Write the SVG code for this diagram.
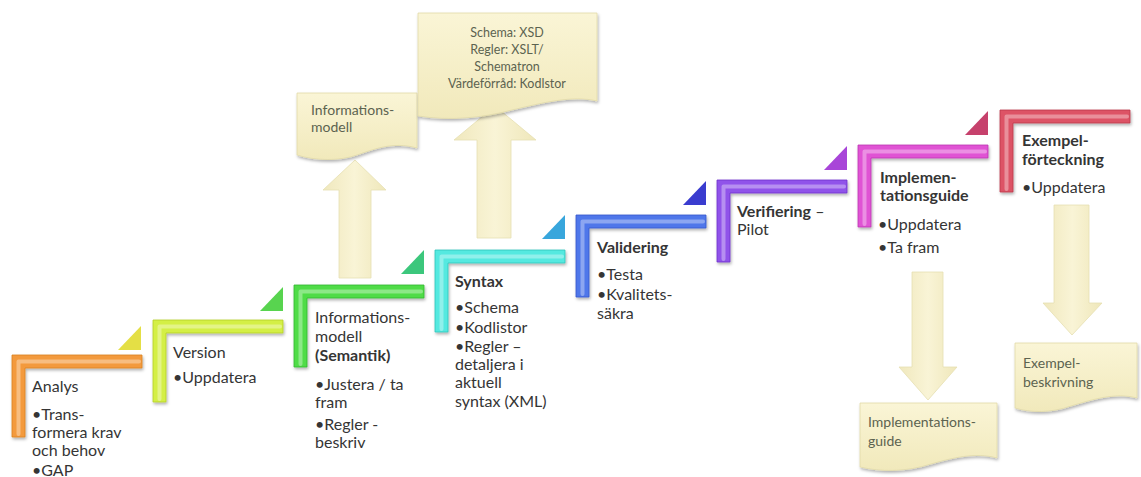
<svg xmlns="http://www.w3.org/2000/svg" width="1141" height="477" viewBox="0 0 1141 477">
<style>
.t{font-family:Lato,"Liberation Sans",sans-serif;font-size:16px;fill:#353535}
.b{font-weight:bold}
.d{font-family:Lato,"Liberation Sans",sans-serif;font-size:14px;fill:#5c6350}
.ds{font-size:12.5px}
.doc{fill:url(#cream);stroke:#e2daa8;stroke-width:0.8;filter:url(#sh)}
.arr{fill:url(#creamH);stroke:#e6dfb2;stroke-width:0.8}
.hl{fill:none;stroke:#fff;stroke-opacity:0.35;stroke-width:4;stroke-linecap:round;stroke-linejoin:round}
.edge{stroke-width:0.8}
</style>
<defs>
<filter id="sh" x="-20%" y="-20%" width="140%" height="150%">
<feDropShadow dx="1" dy="2" stdDeviation="1.6" flood-color="#000" flood-opacity="0.3"/>
</filter>
<linearGradient id="cream" x1="0" y1="0" x2="0" y2="1">
<stop offset="0" stop-color="#faf5d6"/><stop offset="1" stop-color="#f1e9bb"/>
</linearGradient>
<linearGradient id="creamH" x1="0" y1="0" x2="1" y2="0">
<stop offset="0" stop-color="#f0e8bd"/><stop offset="0.5" stop-color="#f9f4d6"/><stop offset="1" stop-color="#efe7ba"/>
</linearGradient>
<path id="L" d="M0,0 H130 V13 H13 V82 H0 Z"/>
<path id="Lh" d="M6.5,79 V6.5 H127"/>
<path id="tri" d="M0,24 H23 V0 Z"/>
</defs>

<g id="connectors">
<path class="arr" d="M339,278 V190 H323 L355,160 L386,190 H371 V278 Z"/>
<path class="arr" d="M477,238 V140 H454 L495,106 L536,140 H511 V238 Z"/>
<path class="arr" d="M912,272 V367 H899 L928,400 L957,367 H943 V272 Z"/>
<path class="arr" d="M1054,205 V303 H1043 L1072,335 L1102,303 H1089 V205 Z"/>
</g>

<g id="doc-informationsmodell">
<path class="doc" d="M297,93 H417 V148 C392,141 372,150 357,155 C340,161 316,161 297,155 Z"/>
<text class="d" x="311" y="115">Informations-</text>
<text class="d" x="311" y="132">modell</text>
</g>

<g id="doc-schema">
<path class="doc" d="M418,13 H597 V101 C572,95 542,103 512,110 C482,118 450,121 418,116 Z"/>
<text class="d ds" text-anchor="middle" x="507" y="37">Schema: XSD</text>
<text class="d ds" text-anchor="middle" x="507" y="54">Regler: XSLT/</text>
<text class="d ds" text-anchor="middle" x="507" y="71">Schematron</text>
<text class="d ds" text-anchor="middle" x="507" y="88">Värdeförråd: Kodlstor</text>
</g>

<g id="doc-implementationsguide">
<path class="doc" d="M860,403 H997 V458 C975,452 952,458 931,464 C906,472 881,472 860,467 Z"/>
<text class="d" x="868" y="427">Implementations-</text>
<text class="d" x="868" y="446">guide</text>
</g>

<g id="doc-exempelbeskrivning">
<path class="doc" d="M1015,343 H1137 V398 C1115,392 1091,400 1071,406 C1051,413 1031,413 1015,408 Z"/>
<text class="d" x="1023" y="368">Exempel-</text>
<text class="d" x="1023" y="387">beskrivning</text>
</g>

<g id="step-analys">
<use href="#L" x="12" y="355" fill="#f39a3d" stroke="#d9801f" class="edge" filter="url(#sh)"/>
<use href="#Lh" x="12" y="355" class="hl"/>
<use href="#tri" x="118" y="326" fill="#e4df45"/>
<text class="t" x="32" y="392">Analys</text>
<text class="t" x="32" y="420">•Trans-</text>
<text class="t" x="32" y="438">formera krav</text>
<text class="t" x="32" y="456">och behov</text>
<text class="t" x="32" y="476">•GAP</text>
</g>

<g id="step-version">
<use href="#L" x="153" y="320" fill="#d4ef45" stroke="#b4cf2a" class="edge" filter="url(#sh)"/>
<use href="#Lh" x="153" y="320" class="hl"/>
<use href="#tri" x="260" y="287" fill="#58d44f"/>
<text class="t" x="173" y="358">Version</text>
<text class="t" x="173" y="383">•Uppdatera</text>
</g>

<g id="step-informationsmodell">
<use href="#L" x="294" y="285" fill="#4fdc47" stroke="#34b62d" class="edge" filter="url(#sh)"/>
<use href="#Lh" x="294" y="285" class="hl"/>
<use href="#tri" x="401" y="250" fill="#3cc77c"/>
<text class="t" x="315" y="323">Informations-</text>
<text class="t" x="315" y="342">modell</text>
<text class="t b" x="315" y="361">(Semantik)</text>
<text class="t" x="315" y="390">•Justera / ta</text>
<text class="t" x="315" y="408">fram</text>
<text class="t" x="315" y="430">•Regler -</text>
<text class="t" x="315" y="448">beskriv</text>
</g>

<g id="step-syntax">
<use href="#L" x="435" y="250" fill="#55e9e0" stroke="#2fc4ba" class="edge" filter="url(#sh)"/>
<use href="#Lh" x="435" y="250" class="hl"/>
<use href="#tri" x="542" y="215" fill="#38a6dc"/>
<text class="t b" x="455" y="287">Syntax</text>
<text class="t" x="455" y="313">•Schema</text>
<text class="t" x="455" y="333">•Kodlistor</text>
<text class="t" x="455" y="352">•Regler –</text>
<text class="t" x="455" y="370">detaljera i</text>
<text class="t" x="455" y="388">aktuell</text>
<text class="t" x="455" y="407">syntax (XML)</text>
</g>

<g id="step-validering">
<use href="#L" x="576" y="215" fill="#5077ea" stroke="#3356cc" class="edge" filter="url(#sh)"/>
<use href="#Lh" x="576" y="215" class="hl"/>
<use href="#tri" x="683" y="181" fill="#3a3ccf"/>
<text class="t b" x="597" y="253">Validering</text>
<text class="t" x="597" y="280">•Testa</text>
<text class="t" x="597" y="300">•Kvalitets-</text>
<text class="t" x="597" y="319">säkra</text>
</g>

<g id="step-verifiering">
<use href="#L" x="717" y="180" fill="#9052ea" stroke="#6e33cc" class="edge" filter="url(#sh)"/>
<use href="#Lh" x="717" y="180" class="hl"/>
<use href="#tri" x="824" y="146" fill="#a845d8"/>
<text class="t" x="737" y="217"><tspan class="b">Verifiering</tspan> –</text>
<text class="t" x="737" y="235">Pilot</text>
</g>

<g id="step-implementationsguide">
<use href="#L" x="858" y="145" fill="#e052d4" stroke="#bd35b2" class="edge" filter="url(#sh)"/>
<use href="#Lh" x="858" y="145" class="hl"/>
<use href="#tri" x="965" y="111" fill="#c6416c"/>
<text class="t b" x="880" y="183">Implemen-</text>
<text class="t b" x="880" y="201">tationsguide</text>
<text class="t" x="878" y="230">•Uppdatera</text>
<text class="t" x="878" y="253">•Ta fram</text>
</g>

<g id="step-exempelforteckning">
<use href="#L" x="1000" y="110" fill="#dd5366" stroke="#bb374a" class="edge" filter="url(#sh)"/>
<use href="#Lh" x="1000" y="110" class="hl"/>
<text class="t b" x="1022" y="146">Exempel-</text>
<text class="t b" x="1022" y="165">förteckning</text>
<text class="t" x="1022" y="193">•Uppdatera</text>
</g>
</svg>
